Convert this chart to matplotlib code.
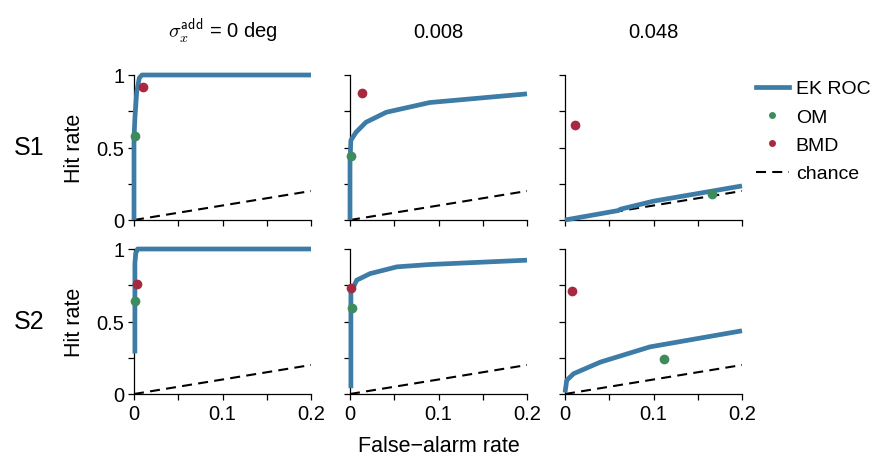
import matplotlib
matplotlib.use("Agg")
import matplotlib.pyplot as plt
from matplotlib.lines import Line2D

plt.rcParams.update({
    "font.family": ["Liberation Sans", "DejaVu Sans"],
    "mathtext.fontset": "cm",
    "axes.linewidth": 0.9,
    "xtick.direction": "out",
    "ytick.direction": "out",
})

# Colours
C_ROC = "#3C7CA6"
C_OM = "#3E8B5E"
C_BMD = "#A8283F"

# Column titles (added noise level) and row labels (subjects)
col_titles = [r"$\sigma_x^{\mathsf{add}}$ = 0 deg", "0.008", "0.048"]
row_labels = ["S1", "S2"]

# EK ROC curves: [row][col] -> (false-alarm, hit)
roc_fa = [
    [[0.0, 0.0, 0.001, 0.003, 0.006, 0.009, 0.2],
     [0.0, 0.0, 0.001, 0.0068, 0.018, 0.041, 0.090, 0.2],
     [0.0, 0.06, 0.063, 0.1, 0.2]],
    [[0.001, 0.001, 0.002, 0.004, 0.2],
     [0.001, 0.001, 0.0076, 0.0226, 0.053, 0.090, 0.2],
     [0.0, 0.002, 0.0097, 0.04, 0.096, 0.2]],
]
roc_hit = [
    [[0.0, 0.56, 0.70, 0.88, 0.98, 1.0, 1.0],
     [0.0, 0.40, 0.55, 0.605, 0.674, 0.743, 0.81, 0.87],
     [0.0, 0.065, 0.075, 0.13, 0.235]],
    [[0.28, 0.90, 0.97, 1.0, 1.0],
     [0.04, 0.70, 0.785, 0.83, 0.877, 0.893, 0.923],
     [0.01, 0.095, 0.14, 0.22, 0.325, 0.436]],
]

# OM and BMD operating points: [row][col]
om_fa = [[0.001, 0.001, 0.166], [0.001, 0.002, 0.112]]
om_hit = [[0.58, 0.44, 0.18], [0.638, 0.592, 0.24]]
bmd_fa = [[0.0105, 0.013, 0.0113], [0.003, 0.0008, 0.0082]]
bmd_hit = [[0.915, 0.876, 0.657], [0.762, 0.73, 0.709]]

chance = [0.0, 0.2]

DASH = (0, (4.8, 3.0))

fig = plt.figure(figsize=(8.76, 4.60), dpi=100)

lefts = [134 / 876, 350 / 876, 565 / 876]
bottoms = [239 / 460, 65 / 460]
w, h = 177 / 876, 145 / 460

for r in range(2):
    for c in range(3):
        ax = fig.add_axes([lefts[c], bottoms[r], w, h])
        ax.plot(chance, chance, ls=DASH, color="black", lw=1.5, zorder=1)
        ax.plot(roc_fa[r][c], roc_hit[r][c], color=C_ROC, lw=3.4,
                solid_capstyle="butt", zorder=3, clip_on=False)
        ax.plot(om_fa[r][c], om_hit[r][c], "o", color=C_OM, ms=7,
                mec="none", zorder=4, clip_on=False)
        ax.plot(bmd_fa[r][c], bmd_hit[r][c], "o", color=C_BMD, ms=7,
                mec="none", zorder=4, clip_on=False)

        ax.set_xlim(0, 0.2)
        ax.set_ylim(0, 1)
        ax.spines["top"].set_visible(False)
        ax.spines["right"].set_visible(False)
        ax.set_xticks([0, 0.05, 0.1, 0.15, 0.2])
        ax.set_yticks([0, 0.25, 0.5, 0.75, 1])
        ax.tick_params(length=4, width=0.9, labelsize=14.5, pad=3)
        if r == 1:
            ax.set_xticklabels(["0", "", "0.1", "", "0.2"])
        else:
            ax.set_xticklabels([])
        if c == 0:
            ax.set_yticklabels(["0", "", "0.5", "", "1"])
            ax.set_ylabel("Hit rate", fontsize=15.5, labelpad=8)
            ax.text(-0.59, 0.5, row_labels[r], transform=ax.transAxes,
                    fontsize=18, ha="center", va="center")
        else:
            ax.set_yticklabels([])
        if r == 0:
            ax.set_title(col_titles[c], fontsize=14.5, pad=27)
        if r == 1 and c == 1:
            ax.set_xlabel("False\u2212alarm rate", fontsize=15.5, labelpad=9)

handles = [
    Line2D([], [], color=C_ROC, lw=3.4, label="EK ROC"),
    Line2D([], [], color=C_OM, marker="o", ls="none", ms=5, mec="none",
           label="OM"),
    Line2D([], [], color=C_BMD, marker="o", ls="none", ms=5, mec="none",
           label="BMD"),
    Line2D([], [], color="black", lw=1.5, ls=DASH, label="chance"),
]
fig.legend(handles=handles, loc="upper left",
           bbox_to_anchor=(748 / 876, 1 - 73 / 460),
           frameon=False, fontsize=14, handlelength=1.7, handletextpad=0.36,
           labelspacing=0.55, borderaxespad=0)

fig.savefig("out.png", dpi=100)
